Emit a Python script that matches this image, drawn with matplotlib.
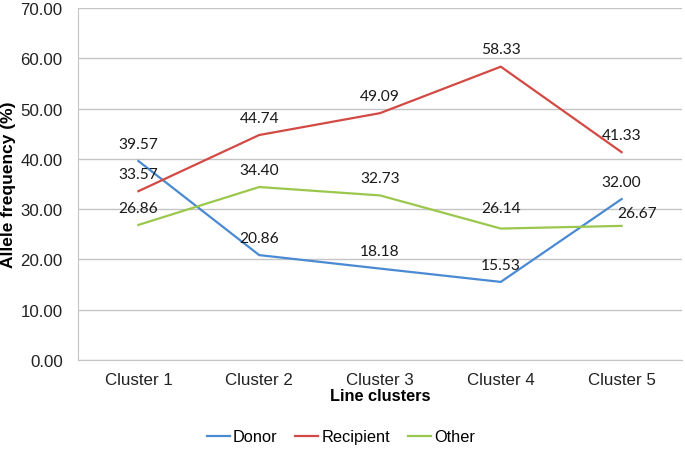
import matplotlib
matplotlib.use("Agg")
import matplotlib.pyplot as plt

# data
clusters = ["Cluster 1", "Cluster 2", "Cluster 3", "Cluster 4", "Cluster 5"]
donor = [39.57, 20.86, 18.18, 15.53, 32.00]
recipient = [33.57, 44.74, 49.09, 58.33, 41.33]
other = [26.86, 34.40, 32.73, 26.14, 26.67]

series = [("Donor", donor, "#4a8ad2"),
          ("Recipient", recipient, "#d34944"),
          ("Other", other, "#9bc74c")]

# label offsets (points) where the reference moved a label
label_shift = {("Other", 3): (0, 15), ("Other", 4): (11.5, 9.5)}

plt.rcParams["font.family"] = ["Liberation Sans", "DejaVu Sans"]

fig = plt.figure(figsize=(6.85, 4.52), dpi=100)
ax = fig.add_axes([78 / 685, 91 / 452, 604 / 685, 352 / 452])

x = list(range(len(clusters)))
for name, vals, col in series:
    ax.plot(x, vals, color=col, lw=1.6, label=name, solid_joinstyle="miter")
    for i, v in enumerate(vals):
        dx, dy = label_shift.get((name, i), (0, 12.5))
        ax.annotate("%.2f" % v, (i, v), xytext=(dx, dy), textcoords="offset points",
                    ha="center", va="center", fontsize=11.2, family=["Lato", "DejaVu Sans"],
                    color="#1a1a1a")

ax.set_xlim(-0.5, len(clusters) - 0.5)
ax.set_ylim(0, 70)
ax.set_yticks(range(0, 71, 10))
ax.set_yticklabels(["%.2f" % t for t in range(0, 71, 10)])
ax.set_xticks(x)
ax.set_xticklabels(clusters)
ax.tick_params(axis="both", length=0, labelsize=12.2, colors="#222222")
ax.tick_params(axis="y", pad=11)
ax.tick_params(axis="x", pad=8.5)

ax.grid(axis="y", color="#c4c4c4", lw=1)
ax.set_axisbelow(True)
for s in ["top", "right"]:
    ax.spines[s].set_visible(False)
ax.spines["left"].set_color("#c4c4c4")
ax.spines["bottom"].set_color("#c4c4c4")

ax.set_xlabel("Line clusters", fontsize=11.8, fontweight="bold", labelpad=1)
fig.text(9 / 685, 1 - 185 / 452, "Allele frequency (%)", rotation=90, fontsize=12.5,
         fontweight="bold", ha="center", va="center")

fig.legend(loc="center", bbox_to_anchor=(341 / 685, 1 - 438 / 452), ncol=3, frameon=False,
           fontsize=11.8, handlelength=1.4, handletextpad=0.2, columnspacing=1.1)

plt.savefig("out.png", dpi=100)
